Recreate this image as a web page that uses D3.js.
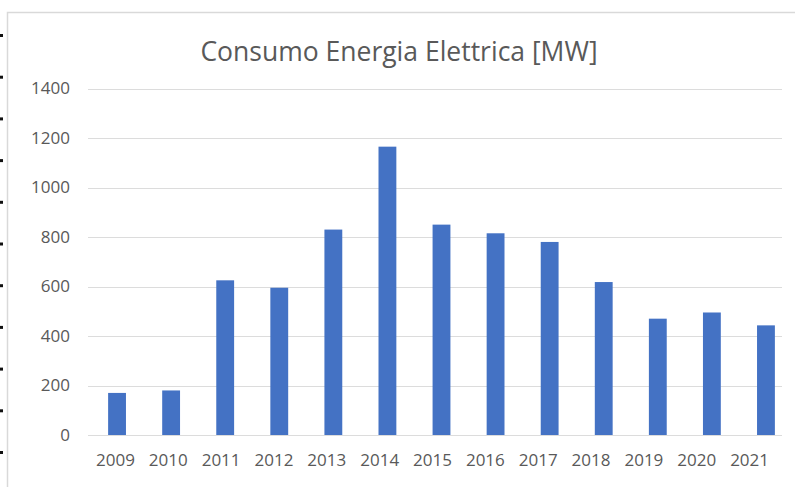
<!DOCTYPE html>
<html>
<head>
<meta charset="utf-8">
<script src="https://cdn.jsdelivr.net/npm/d3@7"></script>
<style>
  html, body { margin: 0; padding: 0; background: #ffffff; }
  svg { display: block; }
  text { font-family: "Open Sans", Lato, sans-serif; }
</style>
</head>
<body>
<svg id="chart" width="795" height="487"></svg>
<script>
// Annual electricity consumption
const years  = ["2009","2010","2011","2012","2013","2014","2015","2016","2017","2018","2019","2020","2021"];
const values = [170, 180, 625, 595, 830, 1165, 850, 815, 780, 618, 470, 495, 443];
const yTicks = [0, 200, 400, 600, 800, 1000, 1200, 1400];
const title  = "Consumo Energia Elettrica [MW]";

const svg = d3.select("#chart");
const W = 795, H = 487;
const FONT = "'Open Sans', Lato, sans-serif";

// page margin marks along the left edge
const marks = svg.append("g");
for (let i = 0; i < 11; i++) {
  marks.append("rect")
    .attr("x", 0).attr("y", 34 + i * 41.7)
    .attr("width", 3).attr("height", 3)
    .attr("fill", "#111");
}

// chart frame
svg.append("rect")
  .attr("x", 7.5).attr("y", 12.5)
  .attr("width", W + 20).attr("height", H + 20)
  .attr("fill", "#fff")
  .attr("stroke", "#d9d9d9").attr("stroke-width", 1.5);

const y = d3.scaleLinear().domain([0, 1400]).range([435, 88.5]);

// bars and category labels
const xBars = d3.scaleBand().domain(years).range([90, 793])
  .paddingInner(0.67).paddingOuter(0.335);
const xLabels = d3.scaleBand().domain(years).range([89, 776])
  .paddingInner(0.67).paddingOuter(0.335);

// gridlines
svg.append("g")
  .selectAll("line")
  .data(yTicks)
  .join("line")
  .attr("x1", 88).attr("x2", 782)
  .attr("y1", d => Math.round(y(d)) + 0.5)
  .attr("y2", d => Math.round(y(d)) + 0.5)
  .attr("stroke", "#dcdcdc").attr("stroke-width", 1);

// y axis labels
const yAxis = d3.axisLeft(y).tickValues(yTicks).tickFormat(d3.format("d"))
  .tickSize(0).tickPadding(0);
svg.append("g")
  .attr("transform", "translate(70,0)")
  .call(yAxis)
  .call(g => g.select(".domain").remove())
  .call(g => g.selectAll("text")
    .attr("fill", "#595959")
    .attr("font-size", 17)
    .attr("font-family", FONT));

// bars
svg.append("g")
  .selectAll("rect")
  .data(years.map((yr, i) => ({ yr, v: values[i] })))
  .join("rect")
  .attr("x", d => xBars(d.yr))
  .attr("width", xBars.bandwidth())
  .attr("y", d => y(d.v))
  .attr("height", d => y(0) - y(d.v))
  .attr("fill", "#4472C4");

// x axis labels
const xAxis = d3.axisBottom(xLabels).tickSize(0).tickPadding(0);
svg.append("g")
  .attr("transform", "translate(0,454)")
  .call(xAxis)
  .call(g => g.select(".domain").remove())
  .call(g => g.selectAll("text")
    .attr("fill", "#595959")
    .attr("font-size", 17)
    .attr("font-family", FONT));

// title
svg.append("text")
  .attr("x", 399).attr("y", 61)
  .attr("text-anchor", "middle")
  .attr("fill", "#595959")
  .attr("font-size", 26.5)
  .attr("font-family", FONT)
  .text(title);
</script>
</body>
</html>
